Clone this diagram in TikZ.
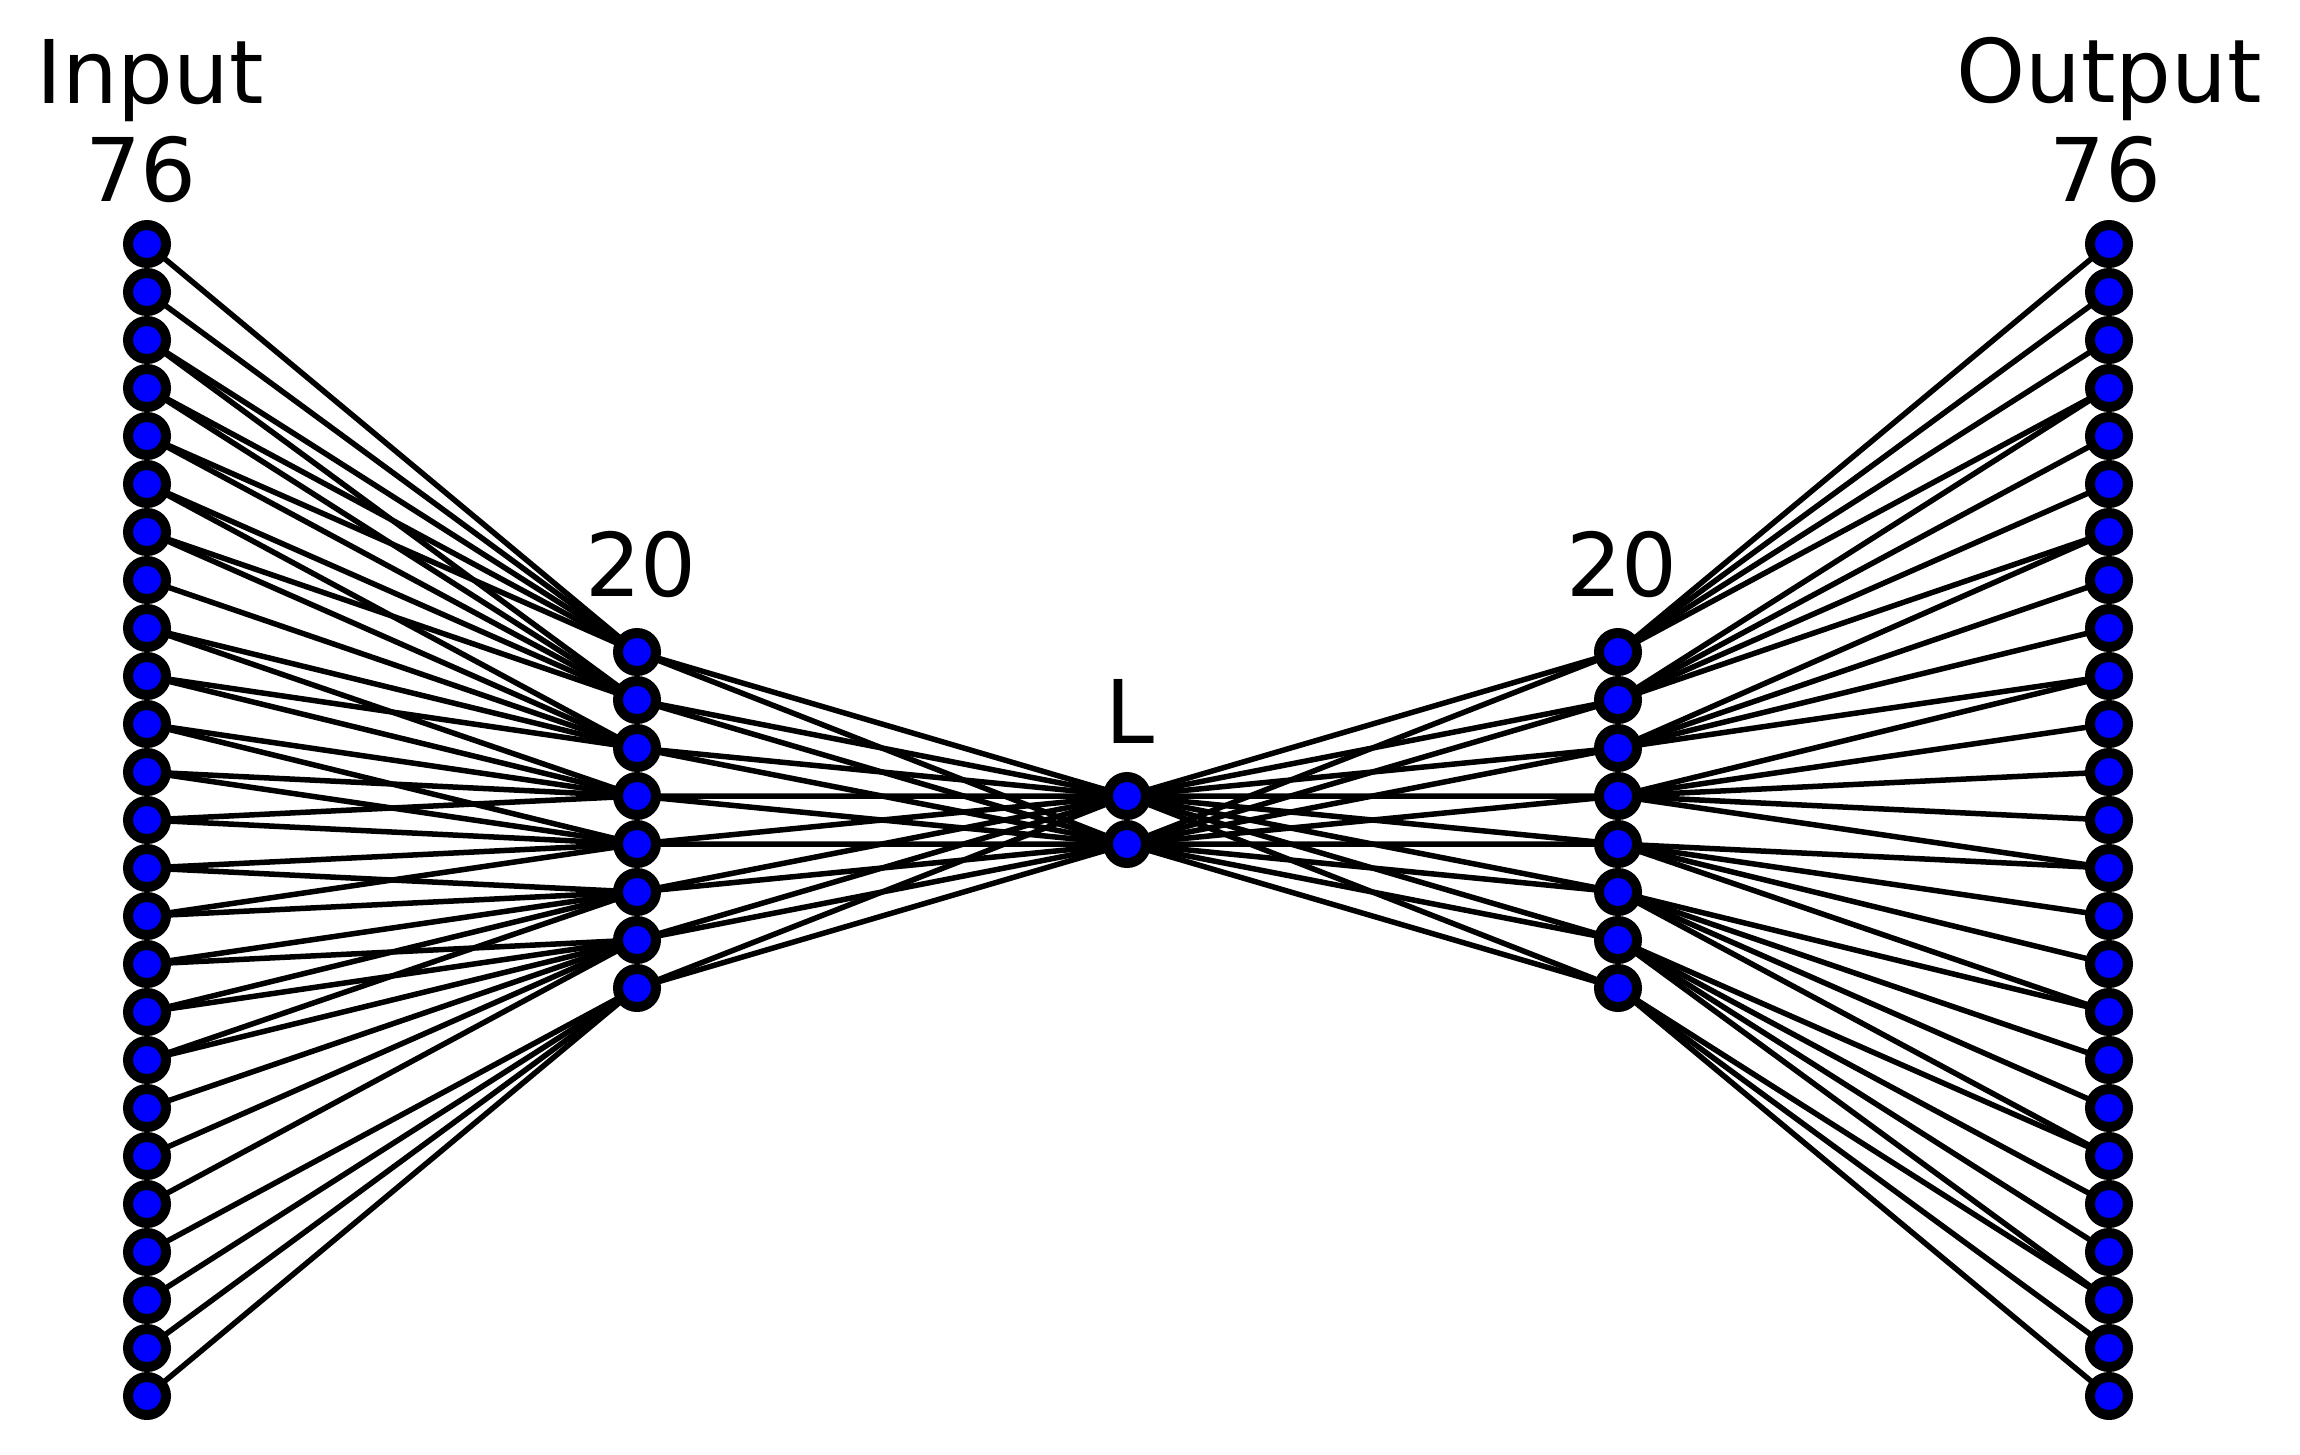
\documentclass[tikz,border=0pt]{standalone}
\usepackage{fontspec}
\setmainfont{DejaVu Sans}
\usepackage{tikz}
\usetikzlibrary{backgrounds}
\tikzset{
  neuron/.style={circle,draw=black,fill=blue,line width=0.1cm,minimum size=0.38cm,inner sep=0pt},
  wire/.style={black,line width=0.055cm},
  layertxt/.style={anchor=base,inner sep=0pt,font=\fontsize{25}{30}\selectfont}
}
\begin{document}
\begin{tikzpicture}
\useasboundingbox (0,0) rectangle (23,-14.54);
% input and output columns (76)
\foreach \k in {1,...,25}{
  \node[neuron] (in\k) at (1.47,{-2.44-0.48*(\k-1)}) {};
  \node[neuron] (out\k) at (21.09,{-2.44-0.48*(\k-1)}) {};
}
% hidden columns (20)
\foreach \k in {1,...,8}{
  \node[neuron] (hl\k) at (6.37,{-6.52-0.48*(\k-1)}) {};
  \node[neuron] (hr\k) at (16.18,{-6.52-0.48*(\k-1)}) {};
}
% latent
\node[neuron] (lat1) at (11.27,-7.96) {};
\node[neuron] (lat2) at (11.27,-8.44) {};
% labels
\node[layertxt] (inname) at (1.50,-1.03) {Input};
\node[layertxt] (insize) at (1.41,-2.01) {76};
\node[layertxt] (outname) at (21.09,-1.02) {Output};
\node[layertxt] (outsize) at (21.05,-2.01) {76};
\node[layertxt] (hlsize) at (6.41,-5.96) {20};
\node[layertxt] (hrsize) at (16.22,-5.96) {20};
\node[layertxt] (latname) at (11.30,-7.43) {L};
% connections
\begin{scope}[on background layer]
\foreach \h/\a/\b in {1/1/5,2/3/7,3/6/10,4/9/13,5/11/15,6/14/18,7/16/21,8/22/25}
  \foreach \k in {\a,...,\b} \draw[wire] (in\k.center) -- (hl\h.center);
\foreach \h in {1,...,8} \foreach \m in {1,2}{
  \draw[wire] (hl\h.center) -- (lat\m.center);
  \draw[wire] (lat\m.center) -- (hr\h.center);
}
\foreach \h/\a/\b in {1/1/4,2/4/7,3/7/10,4/10/14,5/14/17,6/17/20,7/20/23,8/23/25}
  \foreach \k in {\a,...,\b} \draw[wire] (hr\h.center) -- (out\k.center);
\end{scope}
\end{tikzpicture}
\end{document}
